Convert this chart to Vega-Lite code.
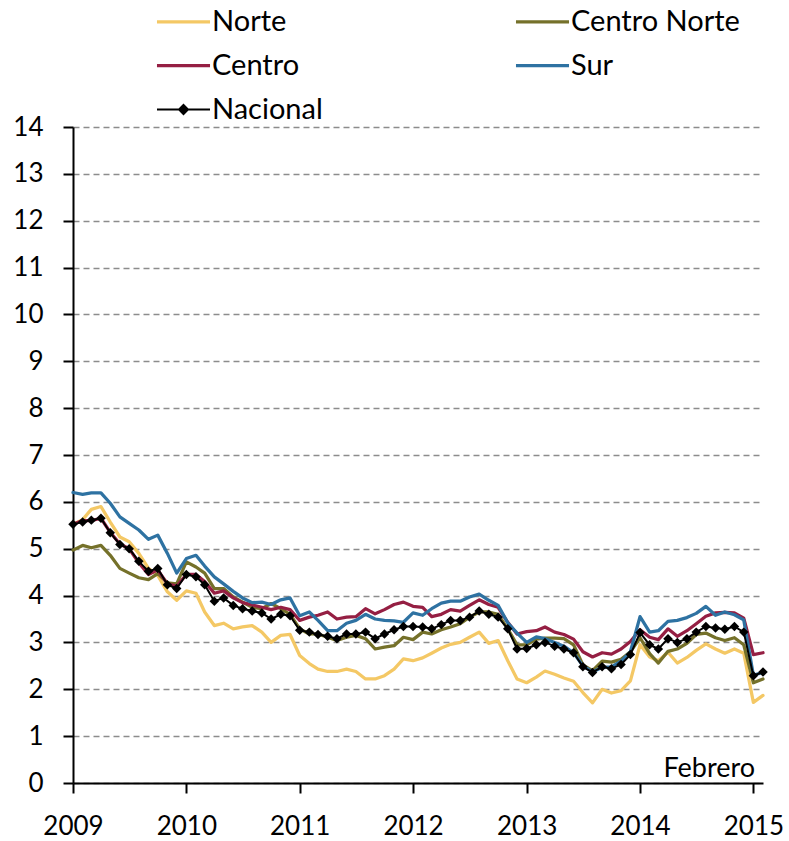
{
  "$schema": "https://vega.github.io/schema/vega-lite/v6.json",
  "width": 690,
  "height": 656,
  "autosize": {"type": "none"},
  "padding": {"left": 73, "top": 127, "right": 26, "bottom": 58},
  "background": "white",
  "config": {
    "view": {"stroke": null},
    "font": "Lato",
    "axis": {"labelFont": "Lato", "labelFontSize": 26, "labelColor": "black", "domainColor": "black", "domainWidth": 2, "tickColor": "black", "tickWidth": 2, "tickSize": 10, "labelPadding": 20, "title": null}
  },
  "datasets": {
    "rates": [
      {"date":"2009-01","region":"Norte","value":5.52},{"date":"2009-02","region":"Norte","value":5.62},{"date":"2009-03","region":"Norte","value":5.84},{"date":"2009-04","region":"Norte","value":5.9},{"date":"2009-05","region":"Norte","value":5.57},{"date":"2009-06","region":"Norte","value":5.25},{"date":"2009-07","region":"Norte","value":5.15},{"date":"2009-08","region":"Norte","value":4.9},{"date":"2009-09","region":"Norte","value":4.58},{"date":"2009-10","region":"Norte","value":4.43},{"date":"2009-11","region":"Norte","value":4.08},{"date":"2009-12","region":"Norte","value":3.9},
      {"date":"2010-01","region":"Norte","value":4.1},{"date":"2010-02","region":"Norte","value":4.05},{"date":"2010-03","region":"Norte","value":3.65},{"date":"2010-04","region":"Norte","value":3.36},{"date":"2010-05","region":"Norte","value":3.41},{"date":"2010-06","region":"Norte","value":3.29},{"date":"2010-07","region":"Norte","value":3.33},{"date":"2010-08","region":"Norte","value":3.36},{"date":"2010-09","region":"Norte","value":3.22},{"date":"2010-10","region":"Norte","value":3.0},{"date":"2010-11","region":"Norte","value":3.15},{"date":"2010-12","region":"Norte","value":3.17},
      {"date":"2011-01","region":"Norte","value":2.72},{"date":"2011-02","region":"Norte","value":2.55},{"date":"2011-03","region":"Norte","value":2.43},{"date":"2011-04","region":"Norte","value":2.38},{"date":"2011-05","region":"Norte","value":2.38},{"date":"2011-06","region":"Norte","value":2.43},{"date":"2011-07","region":"Norte","value":2.38},{"date":"2011-08","region":"Norte","value":2.22},{"date":"2011-09","region":"Norte","value":2.22},{"date":"2011-10","region":"Norte","value":2.29},{"date":"2011-11","region":"Norte","value":2.43},{"date":"2011-12","region":"Norte","value":2.65},
      {"date":"2012-01","region":"Norte","value":2.61},{"date":"2012-02","region":"Norte","value":2.67},{"date":"2012-03","region":"Norte","value":2.77},{"date":"2012-04","region":"Norte","value":2.88},{"date":"2012-05","region":"Norte","value":2.96},{"date":"2012-06","region":"Norte","value":3.0},{"date":"2012-07","region":"Norte","value":3.11},{"date":"2012-08","region":"Norte","value":3.22},{"date":"2012-09","region":"Norte","value":2.98},{"date":"2012-10","region":"Norte","value":3.04},{"date":"2012-11","region":"Norte","value":2.61},{"date":"2012-12","region":"Norte","value":2.22},
      {"date":"2013-01","region":"Norte","value":2.14},{"date":"2013-02","region":"Norte","value":2.26},{"date":"2013-03","region":"Norte","value":2.39},{"date":"2013-04","region":"Norte","value":2.32},{"date":"2013-05","region":"Norte","value":2.24},{"date":"2013-06","region":"Norte","value":2.17},{"date":"2013-07","region":"Norte","value":1.93},{"date":"2013-08","region":"Norte","value":1.71},{"date":"2013-09","region":"Norte","value":2.0},{"date":"2013-10","region":"Norte","value":1.92},{"date":"2013-11","region":"Norte","value":1.97},{"date":"2013-12","region":"Norte","value":2.18},
      {"date":"2014-01","region":"Norte","value":2.95},{"date":"2014-02","region":"Norte","value":2.69},{"date":"2014-03","region":"Norte","value":2.61},{"date":"2014-04","region":"Norte","value":2.79},{"date":"2014-05","region":"Norte","value":2.56},{"date":"2014-06","region":"Norte","value":2.68},{"date":"2014-07","region":"Norte","value":2.83},{"date":"2014-08","region":"Norte","value":2.97},{"date":"2014-09","region":"Norte","value":2.86},{"date":"2014-10","region":"Norte","value":2.77},{"date":"2014-11","region":"Norte","value":2.86},{"date":"2014-12","region":"Norte","value":2.77},
      {"date":"2015-01","region":"Norte","value":1.72},{"date":"2015-02","region":"Norte","value":1.87},

      {"date":"2009-01","region":"Centro Norte","value":4.97},{"date":"2009-02","region":"Centro Norte","value":5.07},{"date":"2009-03","region":"Centro Norte","value":5.02},{"date":"2009-04","region":"Centro Norte","value":5.07},{"date":"2009-05","region":"Centro Norte","value":4.86},{"date":"2009-06","region":"Centro Norte","value":4.58},{"date":"2009-07","region":"Centro Norte","value":4.48},{"date":"2009-08","region":"Centro Norte","value":4.38},{"date":"2009-09","region":"Centro Norte","value":4.34},{"date":"2009-10","region":"Centro Norte","value":4.47},{"date":"2009-11","region":"Centro Norte","value":4.27},{"date":"2009-12","region":"Centro Norte","value":4.25},
      {"date":"2010-01","region":"Centro Norte","value":4.72},{"date":"2010-02","region":"Centro Norte","value":4.61},{"date":"2010-03","region":"Centro Norte","value":4.48},{"date":"2010-04","region":"Centro Norte","value":4.15},{"date":"2010-05","region":"Centro Norte","value":4.15},{"date":"2010-06","region":"Centro Norte","value":3.97},{"date":"2010-07","region":"Centro Norte","value":3.86},{"date":"2010-08","region":"Centro Norte","value":3.75},{"date":"2010-09","region":"Centro Norte","value":3.72},{"date":"2010-10","region":"Centro Norte","value":3.83},{"date":"2010-11","region":"Centro Norte","value":3.72},{"date":"2010-12","region":"Centro Norte","value":3.6},
      {"date":"2011-01","region":"Centro Norte","value":3.29},{"date":"2011-02","region":"Centro Norte","value":3.18},{"date":"2011-03","region":"Centro Norte","value":3.18},{"date":"2011-04","region":"Centro Norte","value":3.11},{"date":"2011-05","region":"Centro Norte","value":3.04},{"date":"2011-06","region":"Centro Norte","value":3.11},{"date":"2011-07","region":"Centro Norte","value":3.15},{"date":"2011-08","region":"Centro Norte","value":3.08},{"date":"2011-09","region":"Centro Norte","value":2.86},{"date":"2011-10","region":"Centro Norte","value":2.9},{"date":"2011-11","region":"Centro Norte","value":2.93},{"date":"2011-12","region":"Centro Norte","value":3.11},
      {"date":"2012-01","region":"Centro Norte","value":3.06},{"date":"2012-02","region":"Centro Norte","value":3.22},{"date":"2012-03","region":"Centro Norte","value":3.18},{"date":"2012-04","region":"Centro Norte","value":3.27},{"date":"2012-05","region":"Centro Norte","value":3.33},{"date":"2012-06","region":"Centro Norte","value":3.4},{"date":"2012-07","region":"Centro Norte","value":3.54},{"date":"2012-08","region":"Centro Norte","value":3.65},{"date":"2012-09","region":"Centro Norte","value":3.65},{"date":"2012-10","region":"Centro Norte","value":3.6},{"date":"2012-11","region":"Centro Norte","value":3.29},{"date":"2012-12","region":"Centro Norte","value":2.95},
      {"date":"2013-01","region":"Centro Norte","value":2.95},{"date":"2013-02","region":"Centro Norte","value":3.07},{"date":"2013-03","region":"Centro Norte","value":3.09},{"date":"2013-04","region":"Centro Norte","value":3.09},{"date":"2013-05","region":"Centro Norte","value":3.08},{"date":"2013-06","region":"Centro Norte","value":2.95},{"date":"2013-07","region":"Centro Norte","value":2.52},{"date":"2013-08","region":"Centro Norte","value":2.4},{"date":"2013-09","region":"Centro Norte","value":2.6},{"date":"2013-10","region":"Centro Norte","value":2.58},{"date":"2013-11","region":"Centro Norte","value":2.64},{"date":"2013-12","region":"Centro Norte","value":2.8},
      {"date":"2014-01","region":"Centro Norte","value":3.1},{"date":"2014-02","region":"Centro Norte","value":2.76},{"date":"2014-03","region":"Centro Norte","value":2.56},{"date":"2014-04","region":"Centro Norte","value":2.81},{"date":"2014-05","region":"Centro Norte","value":2.86},{"date":"2014-06","region":"Centro Norte","value":2.98},{"date":"2014-07","region":"Centro Norte","value":3.17},{"date":"2014-08","region":"Centro Norte","value":3.2},{"date":"2014-09","region":"Centro Norte","value":3.1},{"date":"2014-10","region":"Centro Norte","value":3.04},{"date":"2014-11","region":"Centro Norte","value":3.1},{"date":"2014-12","region":"Centro Norte","value":2.95},
      {"date":"2015-01","region":"Centro Norte","value":2.14},{"date":"2015-02","region":"Centro Norte","value":2.22},

      {"date":"2009-01","region":"Centro","value":5.52},{"date":"2009-02","region":"Centro","value":5.6},{"date":"2009-03","region":"Centro","value":5.6},{"date":"2009-04","region":"Centro","value":5.65},{"date":"2009-05","region":"Centro","value":5.35},{"date":"2009-06","region":"Centro","value":5.1},{"date":"2009-07","region":"Centro","value":5.0},{"date":"2009-08","region":"Centro","value":4.7},{"date":"2009-09","region":"Centro","value":4.45},{"date":"2009-10","region":"Centro","value":4.55},{"date":"2009-11","region":"Centro","value":4.25},{"date":"2009-12","region":"Centro","value":4.2},
      {"date":"2010-01","region":"Centro","value":4.45},{"date":"2010-02","region":"Centro","value":4.45},{"date":"2010-03","region":"Centro","value":4.3},{"date":"2010-04","region":"Centro","value":4.05},{"date":"2010-05","region":"Centro","value":4.1},{"date":"2010-06","region":"Centro","value":3.95},{"date":"2010-07","region":"Centro","value":3.85},{"date":"2010-08","region":"Centro","value":3.8},{"date":"2010-09","region":"Centro","value":3.75},{"date":"2010-10","region":"Centro","value":3.7},{"date":"2010-11","region":"Centro","value":3.75},{"date":"2010-12","region":"Centro","value":3.7},
      {"date":"2011-01","region":"Centro","value":3.47},{"date":"2011-02","region":"Centro","value":3.54},{"date":"2011-03","region":"Centro","value":3.58},{"date":"2011-04","region":"Centro","value":3.65},{"date":"2011-05","region":"Centro","value":3.5},{"date":"2011-06","region":"Centro","value":3.54},{"date":"2011-07","region":"Centro","value":3.55},{"date":"2011-08","region":"Centro","value":3.72},{"date":"2011-09","region":"Centro","value":3.61},{"date":"2011-10","region":"Centro","value":3.7},{"date":"2011-11","region":"Centro","value":3.81},{"date":"2011-12","region":"Centro","value":3.86},
      {"date":"2012-01","region":"Centro","value":3.77},{"date":"2012-02","region":"Centro","value":3.75},{"date":"2012-03","region":"Centro","value":3.55},{"date":"2012-04","region":"Centro","value":3.6},{"date":"2012-05","region":"Centro","value":3.7},{"date":"2012-06","region":"Centro","value":3.67},{"date":"2012-07","region":"Centro","value":3.79},{"date":"2012-08","region":"Centro","value":3.91},{"date":"2012-09","region":"Centro","value":3.81},{"date":"2012-10","region":"Centro","value":3.75},{"date":"2012-11","region":"Centro","value":3.43},{"date":"2012-12","region":"Centro","value":3.18},
      {"date":"2013-01","region":"Centro","value":3.23},{"date":"2013-02","region":"Centro","value":3.25},{"date":"2013-03","region":"Centro","value":3.33},{"date":"2013-04","region":"Centro","value":3.22},{"date":"2013-05","region":"Centro","value":3.17},{"date":"2013-06","region":"Centro","value":3.07},{"date":"2013-07","region":"Centro","value":2.8},{"date":"2013-08","region":"Centro","value":2.69},{"date":"2013-09","region":"Centro","value":2.78},{"date":"2013-10","region":"Centro","value":2.75},{"date":"2013-11","region":"Centro","value":2.86},{"date":"2013-12","region":"Centro","value":3.02},
      {"date":"2014-01","region":"Centro","value":3.27},{"date":"2014-02","region":"Centro","value":3.11},{"date":"2014-03","region":"Centro","value":3.06},{"date":"2014-04","region":"Centro","value":3.29},{"date":"2014-05","region":"Centro","value":3.13},{"date":"2014-06","region":"Centro","value":3.25},{"date":"2014-07","region":"Centro","value":3.4},{"date":"2014-08","region":"Centro","value":3.56},{"date":"2014-09","region":"Centro","value":3.63},{"date":"2014-10","region":"Centro","value":3.64},{"date":"2014-11","region":"Centro","value":3.63},{"date":"2014-12","region":"Centro","value":3.52},
      {"date":"2015-01","region":"Centro","value":2.74},{"date":"2015-02","region":"Centro","value":2.78},

      {"date":"2009-01","region":"Sur","value":6.2},{"date":"2009-02","region":"Sur","value":6.16},{"date":"2009-03","region":"Sur","value":6.19},{"date":"2009-04","region":"Sur","value":6.19},{"date":"2009-05","region":"Sur","value":5.97},{"date":"2009-06","region":"Sur","value":5.68},{"date":"2009-07","region":"Sur","value":5.54},{"date":"2009-08","region":"Sur","value":5.4},{"date":"2009-09","region":"Sur","value":5.2},{"date":"2009-10","region":"Sur","value":5.29},{"date":"2009-11","region":"Sur","value":4.9},{"date":"2009-12","region":"Sur","value":4.48},
      {"date":"2010-01","region":"Sur","value":4.79},{"date":"2010-02","region":"Sur","value":4.86},{"date":"2010-03","region":"Sur","value":4.63},{"date":"2010-04","region":"Sur","value":4.4},{"date":"2010-05","region":"Sur","value":4.25},{"date":"2010-06","region":"Sur","value":4.09},{"date":"2010-07","region":"Sur","value":3.95},{"date":"2010-08","region":"Sur","value":3.85},{"date":"2010-09","region":"Sur","value":3.86},{"date":"2010-10","region":"Sur","value":3.81},{"date":"2010-11","region":"Sur","value":3.91},{"date":"2010-12","region":"Sur","value":3.95},
      {"date":"2011-01","region":"Sur","value":3.57},{"date":"2011-02","region":"Sur","value":3.65},{"date":"2011-03","region":"Sur","value":3.47},{"date":"2011-04","region":"Sur","value":3.25},{"date":"2011-05","region":"Sur","value":3.25},{"date":"2011-06","region":"Sur","value":3.41},{"date":"2011-07","region":"Sur","value":3.47},{"date":"2011-08","region":"Sur","value":3.6},{"date":"2011-09","region":"Sur","value":3.5},{"date":"2011-10","region":"Sur","value":3.47},{"date":"2011-11","region":"Sur","value":3.46},{"date":"2011-12","region":"Sur","value":3.43},
      {"date":"2012-01","region":"Sur","value":3.63},{"date":"2012-02","region":"Sur","value":3.58},{"date":"2012-03","region":"Sur","value":3.72},{"date":"2012-04","region":"Sur","value":3.84},{"date":"2012-05","region":"Sur","value":3.88},{"date":"2012-06","region":"Sur","value":3.88},{"date":"2012-07","region":"Sur","value":3.97},{"date":"2012-08","region":"Sur","value":4.03},{"date":"2012-09","region":"Sur","value":3.9},{"date":"2012-10","region":"Sur","value":3.79},{"date":"2012-11","region":"Sur","value":3.42},{"date":"2012-12","region":"Sur","value":3.2},
      {"date":"2013-01","region":"Sur","value":3.0},{"date":"2013-02","region":"Sur","value":3.12},{"date":"2013-03","region":"Sur","value":3.08},{"date":"2013-04","region":"Sur","value":3.0},{"date":"2013-05","region":"Sur","value":2.92},{"date":"2013-06","region":"Sur","value":2.78},{"date":"2013-07","region":"Sur","value":2.5},{"date":"2013-08","region":"Sur","value":2.37},{"date":"2013-09","region":"Sur","value":2.47},{"date":"2013-10","region":"Sur","value":2.48},{"date":"2013-11","region":"Sur","value":2.6},{"date":"2013-12","region":"Sur","value":2.8},
      {"date":"2014-01","region":"Sur","value":3.55},{"date":"2014-02","region":"Sur","value":3.22},{"date":"2014-03","region":"Sur","value":3.25},{"date":"2014-04","region":"Sur","value":3.45},{"date":"2014-05","region":"Sur","value":3.47},{"date":"2014-06","region":"Sur","value":3.53},{"date":"2014-07","region":"Sur","value":3.62},{"date":"2014-08","region":"Sur","value":3.77},{"date":"2014-09","region":"Sur","value":3.58},{"date":"2014-10","region":"Sur","value":3.65},{"date":"2014-11","region":"Sur","value":3.59},{"date":"2014-12","region":"Sur","value":3.48},
      {"date":"2015-01","region":"Sur","value":2.3},{"date":"2015-02","region":"Sur","value":2.36},

      {"date":"2009-01","region":"Nacional","value":5.52},{"date":"2009-02","region":"Nacional","value":5.57},{"date":"2009-03","region":"Nacional","value":5.61},{"date":"2009-04","region":"Nacional","value":5.65},{"date":"2009-05","region":"Nacional","value":5.34},{"date":"2009-06","region":"Nacional","value":5.09},{"date":"2009-07","region":"Nacional","value":5.0},{"date":"2009-08","region":"Nacional","value":4.73},{"date":"2009-09","region":"Nacional","value":4.52},{"date":"2009-10","region":"Nacional","value":4.58},{"date":"2009-11","region":"Nacional","value":4.23},{"date":"2009-12","region":"Nacional","value":4.15},
      {"date":"2010-01","region":"Nacional","value":4.45},{"date":"2010-02","region":"Nacional","value":4.4},{"date":"2010-03","region":"Nacional","value":4.23},{"date":"2010-04","region":"Nacional","value":3.88},{"date":"2010-05","region":"Nacional","value":3.95},{"date":"2010-06","region":"Nacional","value":3.79},{"date":"2010-07","region":"Nacional","value":3.72},{"date":"2010-08","region":"Nacional","value":3.67},{"date":"2010-09","region":"Nacional","value":3.63},{"date":"2010-10","region":"Nacional","value":3.5},{"date":"2010-11","region":"Nacional","value":3.6},{"date":"2010-12","region":"Nacional","value":3.57},
      {"date":"2011-01","region":"Nacional","value":3.26},{"date":"2011-02","region":"Nacional","value":3.22},{"date":"2011-03","region":"Nacional","value":3.17},{"date":"2011-04","region":"Nacional","value":3.13},{"date":"2011-05","region":"Nacional","value":3.08},{"date":"2011-06","region":"Nacional","value":3.18},{"date":"2011-07","region":"Nacional","value":3.18},{"date":"2011-08","region":"Nacional","value":3.22},{"date":"2011-09","region":"Nacional","value":3.08},{"date":"2011-10","region":"Nacional","value":3.18},{"date":"2011-11","region":"Nacional","value":3.27},{"date":"2011-12","region":"Nacional","value":3.34},
      {"date":"2012-01","region":"Nacional","value":3.34},{"date":"2012-02","region":"Nacional","value":3.33},{"date":"2012-03","region":"Nacional","value":3.29},{"date":"2012-04","region":"Nacional","value":3.38},{"date":"2012-05","region":"Nacional","value":3.47},{"date":"2012-06","region":"Nacional","value":3.47},{"date":"2012-07","region":"Nacional","value":3.54},{"date":"2012-08","region":"Nacional","value":3.67},{"date":"2012-09","region":"Nacional","value":3.6},{"date":"2012-10","region":"Nacional","value":3.54},{"date":"2012-11","region":"Nacional","value":3.29},{"date":"2012-12","region":"Nacional","value":2.86},
      {"date":"2013-01","region":"Nacional","value":2.87},{"date":"2013-02","region":"Nacional","value":2.95},{"date":"2013-03","region":"Nacional","value":3.0},{"date":"2013-04","region":"Nacional","value":2.92},{"date":"2013-05","region":"Nacional","value":2.86},{"date":"2013-06","region":"Nacional","value":2.78},{"date":"2013-07","region":"Nacional","value":2.48},{"date":"2013-08","region":"Nacional","value":2.36},{"date":"2013-09","region":"Nacional","value":2.48},{"date":"2013-10","region":"Nacional","value":2.44},{"date":"2013-11","region":"Nacional","value":2.53},{"date":"2013-12","region":"Nacional","value":2.74},
      {"date":"2014-01","region":"Nacional","value":3.21},{"date":"2014-02","region":"Nacional","value":2.95},{"date":"2014-03","region":"Nacional","value":2.86},{"date":"2014-04","region":"Nacional","value":3.08},{"date":"2014-05","region":"Nacional","value":3.0},{"date":"2014-06","region":"Nacional","value":3.08},{"date":"2014-07","region":"Nacional","value":3.22},{"date":"2014-08","region":"Nacional","value":3.34},{"date":"2014-09","region":"Nacional","value":3.31},{"date":"2014-10","region":"Nacional","value":3.28},{"date":"2014-11","region":"Nacional","value":3.34},{"date":"2014-12","region":"Nacional","value":3.22},
      {"date":"2015-01","region":"Nacional","value":2.29},{"date":"2015-02","region":"Nacional","value":2.37}
    ],
    "note": [{"label": "Febrero"}]
  },
  "layer": [
    {
      "data": {"name": "rates"},
      "transform": [{"filter": "datum.region !== 'Nacional'"}],
      "mark": {"type": "line", "strokeWidth": 3.25, "strokeJoin": "round", "strokeCap": "round"},
      "encoding": {
        "x": {"field": "date", "type": "temporal",
              "scale": {"type": "utc", "domain": [{"year": 2009, "month": 1, "date": 1, "utc": true}, {"year": 2015, "month": 2, "date": 1, "utc": true}], "nice": false},
              "axis": {"format": "%Y", "formatType": "utc", "grid": false, "labelFlush": false, "labelOverlap": false,
                       "values": [{"year": 2009, "month": 1, "date": 1, "utc": true}, {"year": 2010, "month": 1, "date": 1, "utc": true}, {"year": 2011, "month": 1, "date": 1, "utc": true}, {"year": 2012, "month": 1, "date": 1, "utc": true}, {"year": 2013, "month": 1, "date": 1, "utc": true}, {"year": 2014, "month": 1, "date": 1, "utc": true}, {"year": 2015, "month": 1, "date": 1, "utc": true}]}},
        "y": {"field": "value", "type": "quantitative",
              "scale": {"domain": [0, 14], "nice": false, "zero": true},
              "axis": {"values": [0,1,2,3,4,5,6,7,8,9,10,11,12,13,14], "grid": true, "gridColor": "#8c8c8c", "gridDash": [6, 4], "gridWidth": 1.5, "labelFlush": false}},
        "color": {"field": "region", "type": "nominal",
                  "scale": {"domain": ["Norte", "Centro Norte", "Centro", "Sur", "Nacional"], "range": ["#F4C865", "#75712A", "#951F43", "#2E72A2", "#000000"]},
                  "legend": {"orient": "none", "legendX": 96, "legendY": -120, "direction": "horizontal", "columns": 2, "columnPadding": 186, "rowPadding": 14, "gridAlign": "each", "padding": 0,
                             "symbolSize": 1665, "symbolStrokeWidth": 3, "labelOffset": 14, "labelFont": "Lato", "labelFontSize": 29, "labelColor": "black", "title": null, "labelLimit": 400,
                             "encode": {"symbols": {"update": {
                               "shape": {"signal": "datum.value === 'Nacional' ? 'M-1.3,0L1.3,0M0,-0.22L0.22,0L0,0.22L-0.22,0Z' : 'M-1.3,0L1.3,0'"},
                               "fill": {"signal": "datum.value === 'Nacional' ? '#000000' : 'transparent'"},
                               "strokeWidth": {"signal": "datum.value === 'Nacional' ? 2 : 3.25"}}}}}}
      }
    },
    {
      "data": {"name": "rates"},
      "transform": [{"filter": "datum.region === 'Nacional'"}],
      "mark": {"type": "line", "strokeWidth": 2, "strokeJoin": "round"},
      "encoding": {
        "x": {"field": "date", "type": "temporal"},
        "y": {"field": "value", "type": "quantitative"},
        "color": {"field": "region", "type": "nominal"}
      }
    },
    {
      "data": {"name": "rates"},
      "transform": [{"filter": "datum.region === 'Nacional'"}],
      "mark": {"type": "point", "shape": "diamond", "filled": true, "size": 90, "color": "#000000", "opacity": 1},
      "encoding": {
        "x": {"field": "date", "type": "temporal"},
        "y": {"field": "value", "type": "quantitative"}
      }
    },
    {
      "data": {"name": "note"},
      "mark": {"type": "text", "align": "right", "baseline": "alphabetic", "font": "Lato", "fontSize": 27, "color": "#000000", "dx": -8, "dy": -6},
      "encoding": {
        "text": {"field": "label", "type": "nominal"},
        "x": {"datum": {"year": 2015, "month": 2, "date": 1, "utc": true}, "type": "temporal"},
        "y": {"datum": 0, "type": "quantitative"}
      }
    }
  ]
}
